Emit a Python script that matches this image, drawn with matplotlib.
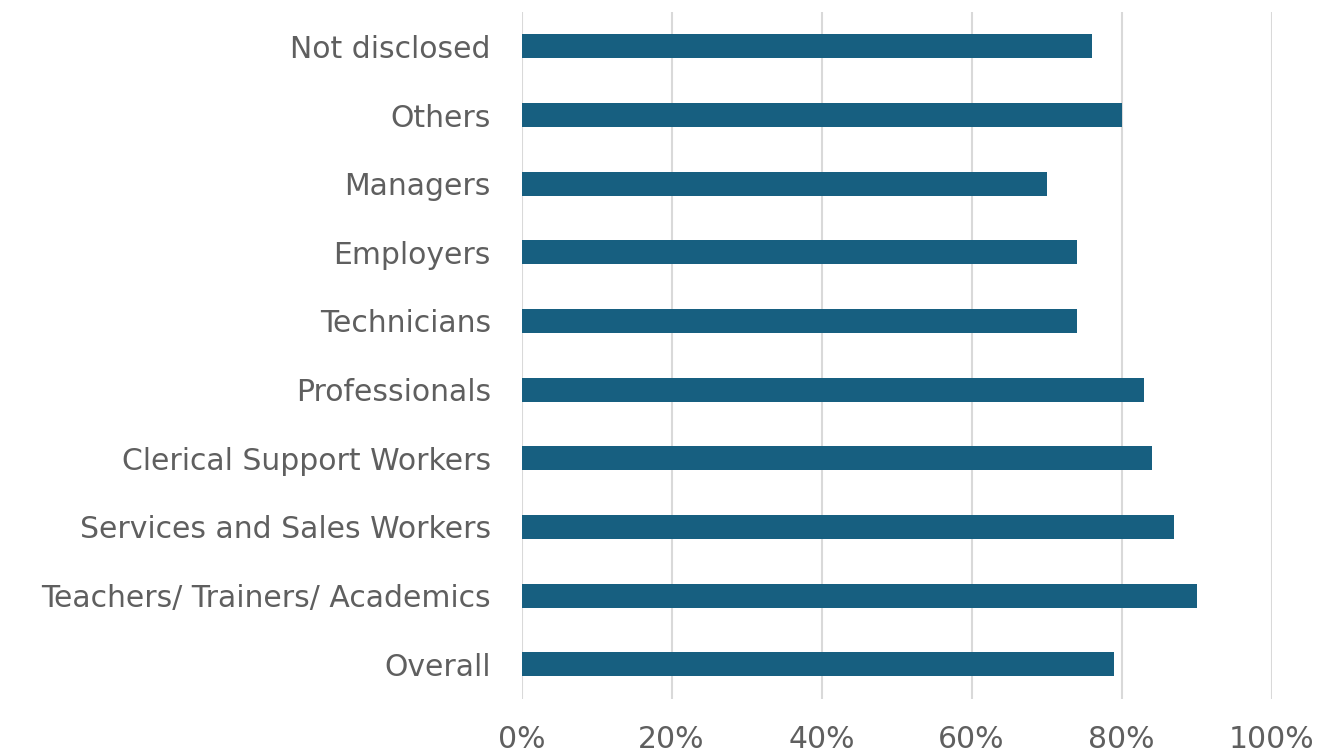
import matplotlib.pyplot as plt
from matplotlib.ticker import FuncFormatter

categories = ['Overall', 'Teachers/ Trainers/ Academics', 'Services and Sales Workers',
              'Clerical Support Workers', 'Professionals', 'Technicians', 'Employers',
              'Managers', 'Others', 'Not disclosed']
values = [79, 90, 87, 84, 83, 74, 74, 70, 80, 76]
x_ticks = [0, 20, 40, 60, 80, 100]

plt.rcParams['font.family'] = ['DejaVu Sans']

fig = plt.figure(figsize=(13.17, 7.56), dpi=100)
ax = fig.add_axes([0.396, 0.076, 0.5695, 0.908])

y = range(len(categories))
ax.barh(y, values, height=0.35, color='#175F80', zorder=3)

ax.set_xlim(0, 100)
ax.set_ylim(-0.5, len(categories) - 0.5)
ax.set_xticks(x_ticks)
ax.xaxis.set_major_formatter(FuncFormatter(lambda v, p: f'{v:.0f}%'))
ax.set_yticks(list(y))
ax.set_yticklabels(categories)

ax.grid(axis='x', color='#D9D9D9', linewidth=1.5, zorder=0)
for s in ax.spines.values():
    s.set_visible(False)
ax.tick_params(axis='both', length=0, labelsize=21.5, labelcolor='#5F5F5F')
ax.tick_params(axis='x', pad=19)
ax.tick_params(axis='y', pad=22)

fig.savefig('out.png', dpi=100)
